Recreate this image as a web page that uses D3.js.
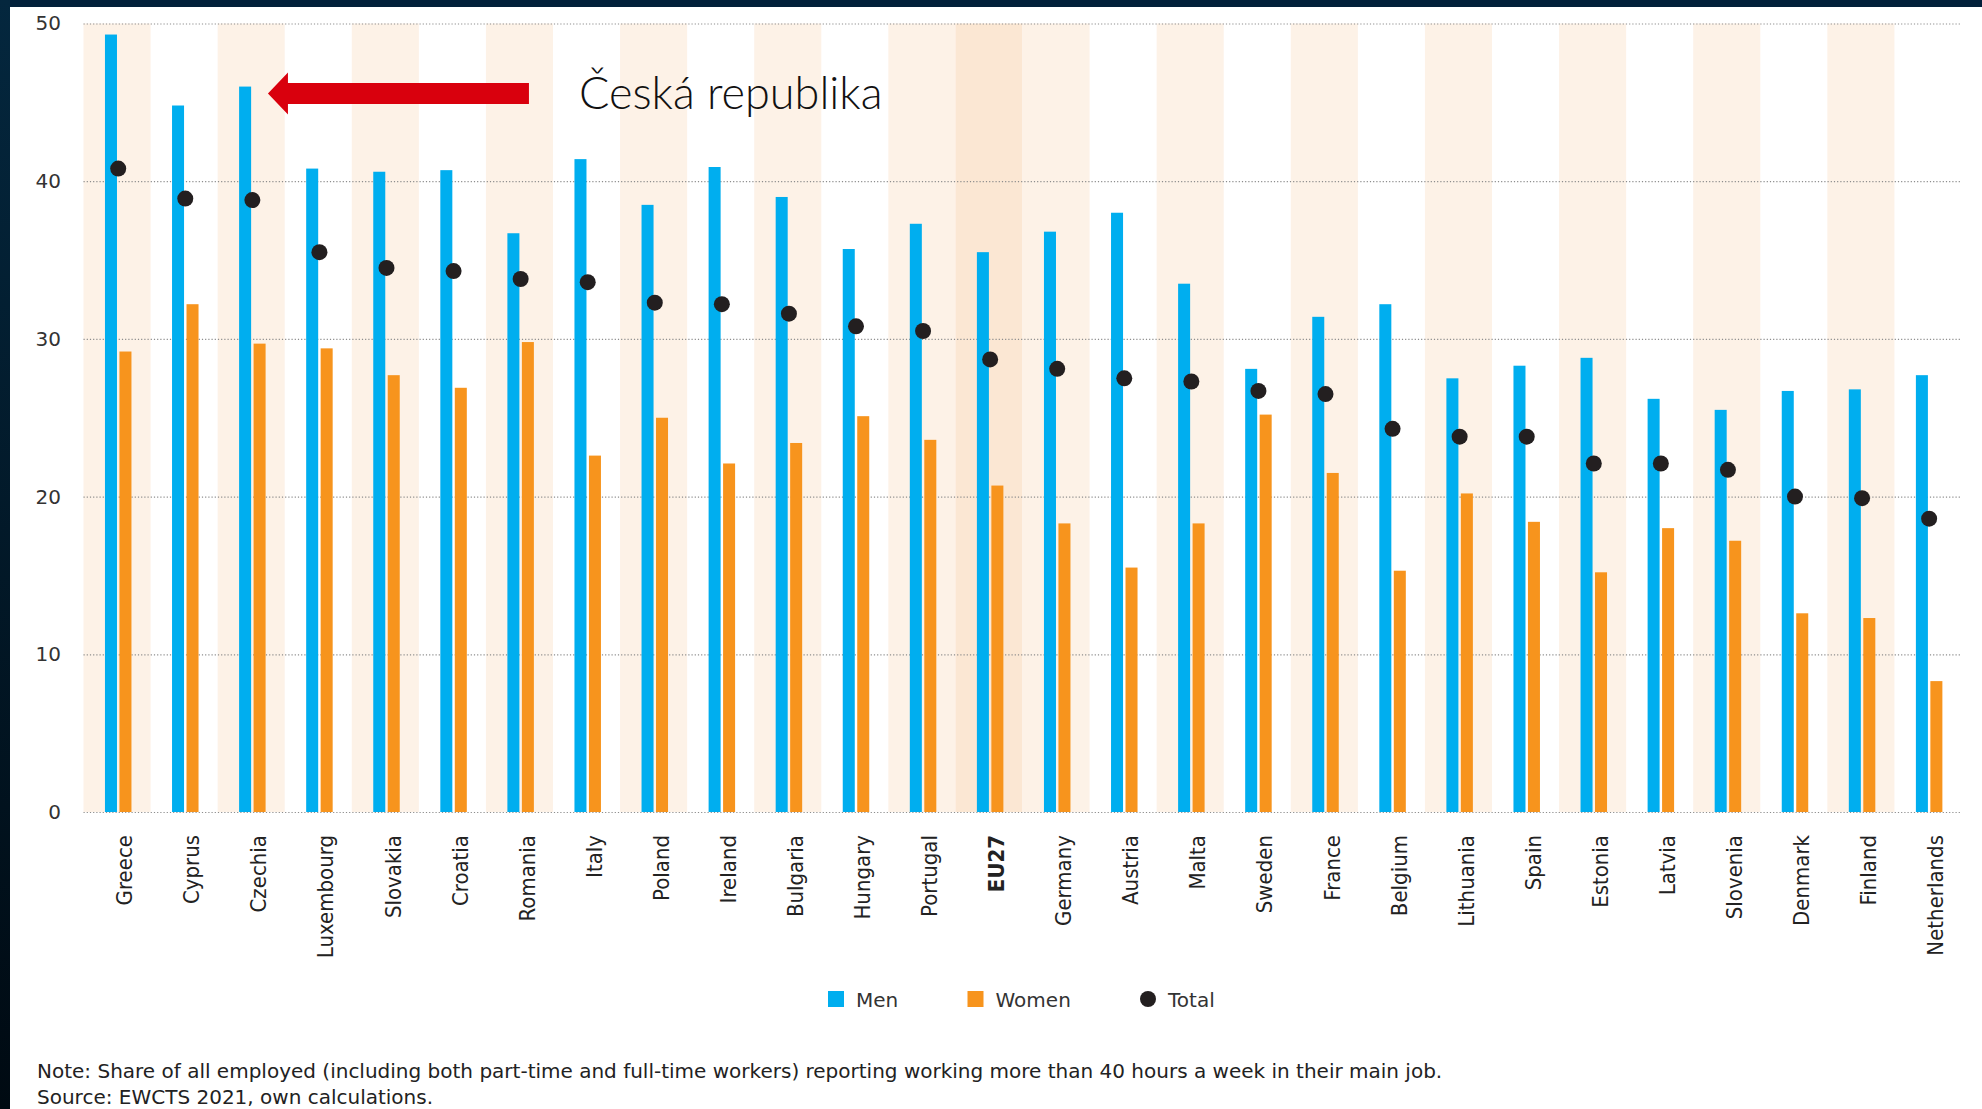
<!DOCTYPE html>
<html>
<head>
<meta charset="utf-8">
<script src="https://cdn.jsdelivr.net/npm/d3@7"></script>
<style>
    body { margin: 0; background: #fff; }
    svg { display: block; }
</style>
</head>
<body>
<div id="chart"></div>
<script>
(function() {
    var countries = ["Greece", "Cyprus", "Czechia", "Luxembourg", "Slovakia", "Croatia", "Romania",
        "Italy", "Poland", "Ireland", "Bulgaria", "Hungary", "Portugal", "EU27", "Germany", "Austria",
        "Malta", "Sweden", "France", "Belgium", "Lithuania", "Spain", "Estonia", "Latvia", "Slovenia",
        "Denmark", "Finland", "Netherlands"];
    var men = [49.3, 44.8, 46.0, 40.8, 40.6, 40.7, 36.7, 41.4, 38.5, 40.9, 39.0, 35.7, 37.3, 35.5,
        36.8, 38.0, 33.5, 28.1, 31.4, 32.2, 27.5, 28.3, 28.8, 26.2, 25.5, 26.7, 26.8, 27.7];
    var women = [29.2, 32.2, 29.7, 29.4, 27.7, 26.9, 29.8, 22.6, 25.0, 22.1, 23.4, 25.1, 23.6, 20.7,
        18.3, 15.5, 18.3, 25.2, 21.5, 15.3, 20.2, 18.4, 15.2, 18.0, 17.2, 12.6, 12.3, 8.3];
    var total = [40.8, 38.9, 38.8, 35.5, 34.5, 34.3, 33.8, 33.6, 32.3, 32.2, 31.6, 30.8, 30.5, 28.7,
        28.1, 27.5, 27.3, 26.7, 26.5, 24.3, 23.8, 23.8, 22.1, 22.1, 21.7, 20.0, 19.9, 18.6];
    var yTicks = [0, 10, 20, 30, 40, 50];
    var legendItems = ["Men", "Women", "Total"];
    var average = "EU27",
        pointed = "Czechia",
        callout = "Česká republika";
    var notes = [
        "Note: Share of all employed (including both part-time and full-time workers) reporting working more than 40 hours a week in their main job.",
        "Source: EWCTS 2021, own calculations."
    ];

    var W = 1982, H = 1109;
    var margin = {
            top: 23.5,
            left: 83.5,
            right: 20.5,
            bottom: 297
        },
        width = W - margin.left - margin.right,
        height = H - margin.top - margin.bottom;

    var blue = "#00aeef",
        orange = "#f7941d",
        dark = "#231f20";

    var svg = d3.select("#chart")
        .append("svg")
        .attr("width", W)
        .attr("height", H);

    // dark frame on the top and left edge
    var grad = svg.append("defs").append("linearGradient")
        .attr("id", "frame")
        .attr("x1", 0).attr("y1", 0).attr("x2", 0).attr("y2", 1);
    grad.append("stop").attr("offset", "0%").attr("stop-color", "#04273e");
    grad.append("stop").attr("offset", "100%").attr("stop-color", "#000a12");

    svg.append("rect").attr("width", W).attr("height", 7).attr("fill", "#02203a");
    svg.append("rect").attr("width", 10).attr("height", H).attr("fill", "url(#frame)");

    var g = svg.append("g")
        .attr("transform", "translate(" + margin.left + "," + margin.top + ")");

    var x = d3.scaleBand().domain(countries).range([0, width]);
    var bw = x.bandwidth();
    var sub = d3.scaleBand().domain(["men", "women"]).range([bw * 0.32, bw * 0.715]).paddingInner(0.17);
    var y = d3.scaleLinear().domain([0, 50]).range([height, 0]);

    // alternating background stripes
    g.selectAll(".stripe")
        .data(countries.filter((d, i) => i % 2 === 0 || d === average))
        .enter().append("rect")
        .attr("class", "stripe")
        .attr("x", d => x(d))
        .attr("y", 0)
        .attr("width", bw)
        .attr("height", height)
        .attr("fill", d => d === average ? "#fbe7d3" : "#fdf2e7");

    // gridlines + y labels
    var yAxis = g.append("g")
        .call(d3.axisLeft(y).tickValues(yTicks).tickSize(-width).tickPadding(22.5));
    yAxis.select(".domain").remove();
    yAxis.selectAll("line")
        .attr("stroke", "#8d8d8d")
        .attr("stroke-width", 1.2)
        .attr("stroke-dasharray", "1.2,2");
    yAxis.selectAll("text")
        .attr("fill", "#333")
        .style("font-family", "'DejaVu Sans', sans-serif")
        .style("font-size", "20px");

    // bars
    var rows = countries.map((c, i) => ({country: c, men: men[i], women: women[i], total: total[i]}));

    g.selectAll(".men")
        .data(rows)
        .enter().append("rect")
        .attr("class", "men")
        .attr("x", d => x(d.country) + sub("men"))
        .attr("y", d => y(d.men))
        .attr("width", sub.bandwidth())
        .attr("height", d => height - y(d.men))
        .attr("fill", blue);

    g.selectAll(".women")
        .data(rows)
        .enter().append("rect")
        .attr("class", "women")
        .attr("x", d => x(d.country) + sub("women"))
        .attr("y", d => y(d.women))
        .attr("width", sub.bandwidth())
        .attr("height", d => height - y(d.women))
        .attr("fill", orange);

    var mid = (sub("men") + sub("women") + sub.bandwidth()) / 2;

    g.selectAll(".total")
        .data(rows)
        .enter().append("circle")
        .attr("class", "total")
        .attr("cx", d => x(d.country) + mid)
        .attr("cy", d => y(d.total))
        .attr("r", 8)
        .attr("fill", dark);

    // country labels
    var xAxis = g.append("g")
        .attr("transform", "translate(0," + height + ")")
        .call(d3.axisBottom(x).tickSize(0));
    xAxis.select(".domain").remove();
    xAxis.selectAll("text")
        .attr("transform", "rotate(-90)")
        .attr("x", -23)
        .attr("y", mid - bw / 2)
        .attr("dy", "14px")
        .attr("fill", "#222")
        .style("text-anchor", "end")
        .style("font-family", "'DejaVu Sans Condensed', 'DejaVu Sans', sans-serif")
        .style("font-size", "22px")
        .style("font-weight", d => d === average ? "bold" : "normal");

    // arrow pointing at Czechia
    var tipX = x(pointed) + bw * 0.75,
        tipY = y(men[countries.indexOf(pointed)]) + 7;
    var arrow = d3.path();
    arrow.moveTo(tipX, tipY);
    arrow.lineTo(tipX + 20, tipY - 21);
    arrow.lineTo(tipX + 20, tipY - 10.5);
    arrow.lineTo(tipX + 261, tipY - 10.5);
    arrow.lineTo(tipX + 261, tipY + 10.5);
    arrow.lineTo(tipX + 20, tipY + 10.5);
    arrow.lineTo(tipX + 20, tipY + 21);
    arrow.closePath();
    g.append("path")
        .attr("d", arrow.toString())
        .attr("fill", "#d9000d");

    g.append("text")
        .attr("x", tipX + 311)
        .attr("y", tipY + 15.5)
        .attr("fill", "#111")
        .style("font-family", "Lato, 'Open Sans', sans-serif")
        .style("font-weight", 300)
        .style("font-size", "45px")
        .text(callout);

    // legend
    var legend = svg.append("g")
        .attr("transform", "translate(828,991)");
    var legendX = [0, 139.5, 312];
    var item = legend.selectAll(".item")
        .data(legendItems)
        .enter().append("g")
        .attr("class", "item")
        .attr("transform", (d, i) => "translate(" + legendX[i] + ",0)");
    item.filter(d => d !== "Total").append("rect")
        .attr("width", 16)
        .attr("height", 16)
        .attr("fill", d => d === "Men" ? blue : orange);
    item.filter(d => d === "Total").append("circle")
        .attr("cx", 8)
        .attr("cy", 8)
        .attr("r", 8)
        .attr("fill", dark);
    item.append("text")
        .attr("x", 28)
        .attr("y", 16)
        .attr("fill", "#333")
        .style("font-family", "'DejaVu Sans', sans-serif")
        .style("font-size", "20px")
        .text(d => d);

    // note and source
    svg.selectAll(".note")
        .data(notes)
        .enter().append("text")
        .attr("class", "note")
        .attr("x", 37)
        .attr("y", (d, i) => 1078 + i * 26)
        .attr("fill", "#222")
        .style("font-family", "'DejaVu Sans', sans-serif")
        .style("font-size", "20px")
        .text(d => d);
})();
</script>
</body>
</html>
